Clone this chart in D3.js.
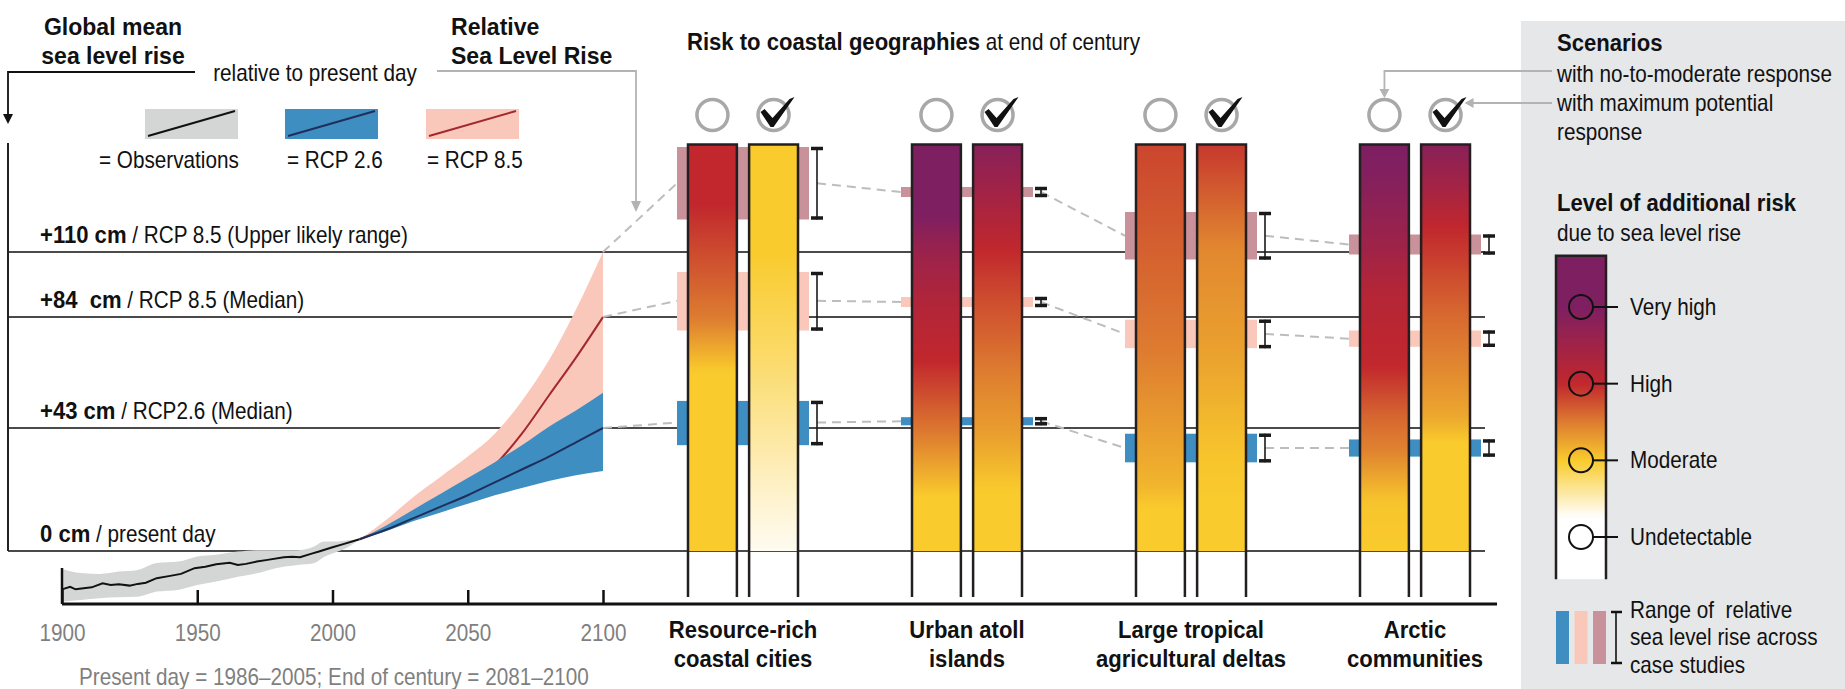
<!DOCTYPE html>
<html>
<head>
<meta charset="utf-8">
<script src="https://cdn.jsdelivr.net/npm/d3@7"></script>
<style>
  body { margin: 0; background: #fff; }
  svg text { font-family: 'Liberation Sans', Arial, sans-serif; white-space: pre; }
</style>
</head>
<body>
<svg id="chart" width="1845" height="689"></svg>
<script>
// ---------- data ----------

// observed global mean sea level (cm, relative to present day)
const obsYears = [1900, 1903, 1905, 1908, 1911, 1915, 1918, 1921, 1925, 1928, 1931, 1935, 1940, 1944, 1949,
  1953, 1957, 1962, 1965, 1968, 1972, 1976, 1982, 1985, 1988, 1992, 1995, 2000, 2004, 2010];
const obsLevel = [-13.4, -12.5, -13.4, -13.0, -12.7, -11.3, -11.9, -11.6, -12.1, -11.5, -11.1, -9.5, -8.7, -8.0, -6.0,
  -5.5, -4.6, -4.1, -4.9, -4.5, -3.7, -3.1, -2.2, -2.0, -2.2, -1.0, -0.2, 1.3, 2.4, 4.1];
const obsBandYears = [1900, 1907, 1914, 1921, 1928, 1935, 1943, 1950, 1957, 1965, 1972, 1979, 1987, 1993, 1997, 2001, 2006, 2010];
const obsBandHigh = [-6.3, -7.7, -8.0, -7.2, -6.6, -4.2, -3.7, -1.9, -1.3, -0.2, 0.3, 0.3, 0.3, 1.5, 3.3, 3.3, 3.8, 4.1];
const obsBandLow = [-17.7, -17.1, -16.5, -16.2, -16.0, -14.2, -13.6, -11.9, -10.7, -9.0, -7.8, -6.0, -4.9, -4.3, -2.0, -0.5, 1.5, 4.1];

// projections
const projYears = [2010, 2020, 2030, 2040, 2050, 2060, 2070, 2080, 2090, 2100];
const rcp26Median = [4.1, 7.5, 11.5, 15.5, 19.5, 24, 28.5, 33, 38, 43];
const rcp26Low = [4.1, 7, 10.5, 13.5, 16.5, 19.5, 22, 24.5, 26.5, 28];
const rcp26High = [4.1, 9, 14.5, 20, 25.5, 31, 37, 43.5, 49.5, 56];
const rcp85Median = [4.1, 8, 12.5, 16.5, 22, 30, 41, 55, 69, 84];
const rcp85Low = [4.1, 8, 12, 16, 20, 25, 31, 39, 47, 55];
const rcp85High = [4.1, 11, 19, 26, 33, 41, 53, 68, 87, 110];

// reference levels
const refLevels = [110, 84, 43, 0];
const refBold = ["+110 cm", "+84  cm", "+43 cm", "0 cm"];
const refText = [" / RCP 8.5 (Upper likely range)", " / RCP 8.5 (Median)", " / RCP2.6 (Median)", " / present day"];
const yearTicks = [1900, 1950, 2000, 2050, 2100];

// coastal geographies
const geographies = ["Resource-rich", "Urban atoll", "Large tropical", "Arctic"];
const geoLine2 = ["coastal cities", "islands", "agricultural deltas", "communities"];
const barSpan = [0, 153]; // cm covered by each risk bar

// range of relative sea level rise across case studies (cm)
const range85Upper = [[123, 152], [132, 136], [107, 126], [109, 117]];
const range85Median = [[79, 102], [88, 92], [72.5, 83], [73, 79]];
const range26Median = [[37, 53], [44, 47], [31, 41], [33, 39]];

// risk level (0 undetectable, 1 moderate, 2 high, 3 very high) against sea level (cm)
const riskNoResponse = [
  [[153, 2], [129, 2], [84, 1.5], [64, 1], [0, 1]],
  [[153, 3], [125, 3], [111, 2.6], [91, 2.25], [68, 2], [41, 1.5], [19, 1], [0, 1]],
  [[153, 1.82], [111, 1.66], [72, 1.5], [24, 1.15], [15, 1], [0, 1]],
  [[153, 3], [143, 2.95], [111, 2.5], [95, 2.2], [66, 2], [47, 1.62], [35, 1.45], [18, 1.05], [0, 1]]
];
const riskMaxResponse = [
  [[153, 1], [111, 1], [72, 0.8], [35, 0.55], [18, 0.42], [0, 0.3]],
  [[153, 2.85], [111, 2.0], [98, 1.85], [78, 1.65], [60, 1.45], [41, 1.28], [21, 1], [0, 1]],
  [[153, 1.9], [131, 1.65], [111, 1.42], [72, 1.27], [35, 1.05], [18, 1], [0, 1]],
  [[153, 2.85], [131, 2.3], [120, 2.0], [111, 1.9], [84, 1.6], [66, 1.43], [47, 1.22], [38, 1], [0, 1]]
];
const riskLevels = [3, 2, 1, 0];
const riskNames = ["Very high", "High", "Moderate", "Undetectable"];
const riskLegendSpan = [-0.55, 3.67];

// ---------- scales ----------

const svg = d3.select("#chart");

const x = d3.scaleLinear().domain([1900, 2100]).range([62, 603]);
const y = d3.scaleLinear().domain([0, 43, 84, 110]).range([551, 428, 317, 252]);

const geo = d3.scaleBand().domain(geographies).range([631, 1527]);
const scen = d3.scaleBand().domain(["none", "max"]).range([-55, 55]).paddingInner(0.2);
const riskColor = d3.scaleLinear()
  .domain([0.25, 1, 1.5, 2, 3])
  .range(["#ffffff", "#f9cb2c", "#dd7b30", "#c1272d", "#7e1f62"])
  .clamp(true);
const riskY = d3.scaleLinear().domain([0, 3]).range([537, 307]);

const colObsBand = "#d3d6d5", colBlue = "#3f8ec2", colPink = "#f9c8ba", colMauve = "#c9929b";
const colRed = "#a3282e", colNavy = "#1f2f5a", colGrey = "#b3b3b3", colLine = "#4a4a4a";
const defs = svg.append("defs");

// the original uses a narrow face; squeeze Liberation Sans horizontally
const SX_REG = 0.9, SX_BOLD = 0.96;

function label(parent, x0, y0, str, opts = {}) {
  const bold = !!opts.bold;
  const sx = bold ? SX_BOLD : SX_REG;
  return parent.append("text")
    .attr("transform", `translate(${x0},${y0}) scale(${sx},1)`)
    .attr("font-size", opts.size || 23)
    .attr("font-weight", bold ? "bold" : "normal")
    .attr("text-anchor", opts.anchor || "start")
    .attr("fill", opts.fill || "#111")
    .text(str);
}

function richLabel(parent, x0, y0, parts, size) {
  let cx = x0;
  parts.forEach(p => {
    const t = label(parent, cx, y0, p.text, { size, bold: p.bold });
    cx += t.node().getComputedTextLength() * (p.bold ? SX_BOLD : SX_REG);
  });
}

function geoCenter(g) { return geo(g) + geo.bandwidth() / 2; }

function addGradient(id, y1, y2, stopFn) {
  const grad = defs.append("linearGradient")
    .attr("id", id)
    .attr("gradientUnits", "userSpaceOnUse")
    .attr("x1", 0).attr("x2", 0).attr("y1", y1).attr("y2", y2);
  d3.range(0, 61).forEach(i => {
    const t = i / 60;
    grad.append("stop").attr("offset", t).attr("stop-color", stopFn(t));
  });
}

// ---------- right legend panel background ----------

svg.append("rect")
  .attr("x", 1521).attr("y", 21).attr("width", 324).attr("height", 668)
  .attr("fill", "#e6e7e8");

// ---------- reference lines ----------

svg.selectAll(".ref")
  .data(refLevels)
  .join("line")
  .attr("x1", 8).attr("x2", 1485)
  .attr("y1", d => y(d)).attr("y2", d => y(d))
  .attr("stroke", colLine).attr("stroke-width", 2);

svg.append("line")
  .attr("x1", 8).attr("x2", 8).attr("y1", 143).attr("y2", y(0))
  .attr("stroke", "#222").attr("stroke-width", 2);

// ---------- observations ----------

const obsBand = obsBandYears.map((yr, i) => ({ yr, lo: obsBandLow[i], hi: obsBandHigh[i] }));
svg.append("path")
  .datum(obsBand)
  .attr("fill", colObsBand)
  .attr("d", d3.area().x(d => x(d.yr)).y0(d => y(d.lo)).y1(d => y(d.hi)).curve(d3.curveMonotoneX));

svg.append("path")
  .datum(obsYears.map((yr, i) => ({ yr, v: obsLevel[i] })))
  .attr("fill", "none").attr("stroke", "#111").attr("stroke-width", 2)
  .attr("d", d3.line().x(d => x(d.yr)).y(d => y(d.v)));

// ---------- projections ----------

const proj = projYears.map((yr, i) => ({
  yr,
  m26: rcp26Median[i], lo26: rcp26Low[i], hi26: rcp26High[i],
  m85: rcp85Median[i], lo85: rcp85Low[i], hi85: rcp85High[i]
}));
const curve = d3.curveMonotoneX;

svg.append("path").datum(proj).attr("fill", colPink)
  .attr("d", d3.area().x(d => x(d.yr)).y0(d => y(d.lo85)).y1(d => y(d.hi85)).curve(curve));
svg.append("path").datum(proj).attr("fill", "none").attr("stroke", colRed).attr("stroke-width", 2)
  .attr("d", d3.line().x(d => x(d.yr)).y(d => y(d.m85)).curve(curve));
svg.append("path").datum(proj).attr("fill", colBlue)
  .attr("d", d3.area().x(d => x(d.yr)).y0(d => y(d.lo26)).y1(d => y(d.hi26)).curve(curve));
svg.append("path").datum(proj).attr("fill", "none").attr("stroke", colNavy).attr("stroke-width", 2)
  .attr("d", d3.line().x(d => x(d.yr)).y(d => y(d.m26)).curve(curve));

// ---------- x axis ----------

const axis = svg.append("g")
  .attr("transform", `translate(0,604)`)
  .call(d3.axisBottom(x).tickValues(yearTicks).tickFormat(d3.format("d")).tickSize(-14).tickPadding(21));
axis.select(".domain").remove();
axis.selectAll(".tick line").attr("stroke", "#111").attr("stroke-width", 2.5);
axis.selectAll(".tick text")
  .attr("fill", "#7f7f7f").attr("font-size", 23)
  .attr("transform", `scale(${SX_REG},1)`)
  .style("font-family", "'Liberation Sans', Arial, sans-serif");
svg.append("line")
  .attr("x1", x(1900)).attr("x2", 1497).attr("y1", 604).attr("y2", 604)
  .attr("stroke", "#111").attr("stroke-width", 3);
svg.append("line")
  .attr("x1", x(1900)).attr("x2", x(1900)).attr("y1", 568).attr("y2", 604)
  .attr("stroke", "#111").attr("stroke-width", 2.5);

label(svg, 79, 685, "Present day = 1986–2005; End of century = 2081–2100", { fill: "#7f7f7f" });

// ---------- dashed connectors ----------

const rangeSets = [
  { ranges: range85Upper, color: colMauve, start: 110 },
  { ranges: range85Median, color: colPink, start: 84 },
  { ranges: range26Median, color: colBlue, start: 43 }
];
const boxHalf = 66, errOffset = 74;

rangeSets.forEach(set => {
  const mids = set.ranges.map(r => (r[0] + r[1]) / 2);
  const pts = [[x(2100), y(set.start), geoCenter(geographies[0]) - boxHalf, y(mids[0])]];
  for (let i = 0; i < geographies.length - 1; i++) {
    pts.push([geoCenter(geographies[i]) + errOffset, y(mids[i]),
      geoCenter(geographies[i + 1]) - boxHalf, y(mids[i + 1])]);
  }
  svg.append("g").selectAll("line")
    .data(pts)
    .join("line")
    .attr("x1", d => d[0]).attr("y1", d => d[1]).attr("x2", d => d[2]).attr("y2", d => d[3])
    .attr("stroke", "#bdbdbd").attr("stroke-width", 2).attr("stroke-dasharray", "9,6");
});

// ---------- range boxes ----------

rangeSets.forEach(set => {
  svg.append("g").selectAll("rect")
    .data(set.ranges)
    .join("rect")
    .attr("x", (d, i) => geoCenter(geographies[i]) - boxHalf)
    .attr("width", boxHalf * 2)
    .attr("y", d => y(d[1]))
    .attr("height", d => y(d[0]) - y(d[1]))
    .attr("fill", set.color);
});

// ---------- risk bars ----------

function riskAt(stops, cm) {
  const s = stops.slice().sort((a, b) => a[0] - b[0]);
  const f = d3.scaleLinear().domain(s.map(d => d[0])).range(s.map(d => d[1])).clamp(true);
  return f(cm);
}

const barTop = y(barSpan[1]), barBottom = y(barSpan[0]), barFoot = 597;

geographies.forEach((g, gi) => {
  [["none", riskNoResponse[gi]], ["max", riskMaxResponse[gi]]].forEach(([s, stops]) => {
    const bx = geoCenter(g) + scen(s);
    const bw = scen.bandwidth();
    const id = `bar-${gi}-${s}`;
    addGradient(id, barTop, barBottom, t => riskColor(riskAt(stops, y.invert(barTop + t * (barBottom - barTop)))));
    svg.append("rect")
      .attr("x", bx).attr("y", barTop).attr("width", bw).attr("height", barBottom - barTop)
      .attr("fill", `url(#${id})`);
    svg.append("path")
      .attr("d", `M${bx},${barFoot}V${barTop}H${bx + bw}V${barFoot}`)
      .attr("fill", "none").attr("stroke", "#231f20").attr("stroke-width", 2.5);

    // scenario icon
    const cx = bx + bw / 2, cy = 115;
    svg.append("circle")
      .attr("cx", cx).attr("cy", cy).attr("r", 15.5)
      .attr("fill", "none").attr("stroke", "#a8a8a8").attr("stroke-width", 3.5);
    if (s === "max") {
      svg.append("path")
        .attr("transform", `translate(${cx},${cy})`)
        .attr("d", "M-13,-3 L-9,-6 L-1,3 L16,-16 L21,-18 L0,12 L-3,12 Z")
        .attr("fill", "#111");
    }
  });
});

// ---------- error bars ----------

rangeSets.forEach(set => {
  set.ranges.forEach((r, i) => {
    const ex = geoCenter(geographies[i]) + errOffset;
    const g = svg.append("g").attr("stroke", "#1a1a1a");
    g.append("line").attr("x1", ex).attr("x2", ex).attr("y1", y(r[1])).attr("y2", y(r[0])).attr("stroke-width", 1.6);
    g.append("line").attr("x1", ex - 6).attr("x2", ex + 6).attr("y1", y(r[1]) + 1.5).attr("y2", y(r[1]) + 1.5).attr("stroke-width", 3.5);
    g.append("line").attr("x1", ex - 6).attr("x2", ex + 6).attr("y1", y(r[0]) - 1.5).attr("y2", y(r[0]) - 1.5).attr("stroke-width", 3.5);
  });
});

// ---------- geography labels ----------

geographies.forEach((g, i) => {
  label(svg, geoCenter(g), 638, g, { bold: true, anchor: "middle" });
  label(svg, geoCenter(g), 667, geoLine2[i], { bold: true, anchor: "middle" });
});

// ---------- left titles and legend ----------

label(svg, 113, 35, "Global mean", { size: 24, bold: true, anchor: "middle" });
label(svg, 113, 64, "sea level rise", { size: 24, bold: true, anchor: "middle" });
label(svg, 451, 35, "Relative", { size: 24, bold: true });
label(svg, 451, 64, "Sea Level Rise", { size: 24, bold: true });
label(svg, 315, 81, "relative to present day", { size: 23, anchor: "middle" });

svg.append("path").attr("d", "M195,72H8V118").attr("fill", "none").attr("stroke", "#111").attr("stroke-width", 1.8);
svg.append("path").attr("d", "M3,114L13,114L8,124Z").attr("fill", "#111");
svg.append("path").attr("d", "M437,71H636V205").attr("fill", "none").attr("stroke", colGrey).attr("stroke-width", 1.8);
svg.append("path").attr("d", "M631,201L641,201L636,212Z").attr("fill", colGrey);

const legendItems = [
  { fill: colObsBand, line: "#111", label: "= Observations", x: 145, lx: 99 },
  { fill: colBlue, line: colNavy, label: "= RCP 2.6", x: 285, lx: 287 },
  { fill: colPink, line: colRed, label: "= RCP 8.5", x: 426, lx: 427 }
];
legendItems.forEach(d => {
  svg.append("rect").attr("x", d.x).attr("y", 109).attr("width", 93).attr("height", 30).attr("fill", d.fill);
  svg.append("line").attr("x1", d.x + 3).attr("y1", 136).attr("x2", d.x + 90).attr("y2", 111)
    .attr("stroke", d.line).attr("stroke-width", 2);
  label(svg, d.lx, 168, d.label, { size: 23 });
});

// reference level labels
refLevels.forEach((lv, i) => {
  richLabel(svg, 40, y(lv) - 9, [{ text: refBold[i], bold: true }, { text: refText[i] }], 23);
});

// risk title
richLabel(svg, 687, 50, [{ text: "Risk to coastal geographies", bold: true }, { text: " at end of century" }], 23);

// ---------- right legend ----------

label(svg, 1557, 51, "Scenarios", { bold: true });
label(svg, 1557, 82, "with no-to-moderate response");
label(svg, 1557, 111, "with maximum potential");
label(svg, 1557, 140, "response");

const lastC = geoCenter(geographies[3]);
const noneX = lastC + scen("none") + scen.bandwidth() / 2;
const maxX = lastC + scen("max") + scen.bandwidth() / 2;
svg.append("path").attr("d", `M1552,71H${noneX}V92`)
  .attr("fill", "none").attr("stroke", colGrey).attr("stroke-width", 1.8);
svg.append("path").attr("d", `M${noneX - 5},89l10,0l-5,9Z`).attr("fill", colGrey);
svg.append("path").attr("d", `M1552,103H${maxX + 24}`)
  .attr("fill", "none").attr("stroke", colGrey).attr("stroke-width", 1.8);
svg.append("path").attr("d", `M${maxX + 19},103l9,-5l0,10Z`).attr("fill", colGrey);

label(svg, 1557, 211, "Level of additional risk", { bold: true });
label(svg, 1557, 241, "due to sea level rise");

const legTop = riskY(riskLegendSpan[1]), legBottom = riskY(riskLegendSpan[0]);
addGradient("legend-grad", legTop, legBottom, t => riskColor(riskY.invert(legTop + t * (legBottom - legTop))));
svg.append("rect").attr("x", 1556).attr("y", legTop).attr("width", 50).attr("height", legBottom - legTop)
  .attr("fill", "url(#legend-grad)");
svg.append("path").attr("d", `M1556,${legBottom}V${legTop}H1606V${legBottom}`)
  .attr("fill", "none").attr("stroke", "#231f20").attr("stroke-width", 2.5);

riskLevels.forEach((lv, i) => {
  svg.append("circle").attr("cx", 1581).attr("cy", riskY(lv)).attr("r", 12)
    .attr("fill", "none").attr("stroke", "#111").attr("stroke-width", 2);
  svg.append("line").attr("x1", 1593).attr("x2", 1618).attr("y1", riskY(lv)).attr("y2", riskY(lv))
    .attr("stroke", "#111").attr("stroke-width", 2);
  label(svg, 1630, riskY(lv) + 8, riskNames[i]);
});

[colBlue, colPink, colMauve].forEach((c, i) => {
  svg.append("rect").attr("x", 1556 + i * 18.5).attr("y", 611).attr("width", 13).attr("height", 53).attr("fill", c);
});
svg.append("line").attr("x1", 1616).attr("x2", 1616).attr("y1", 612).attr("y2", 663).attr("stroke", "#111").attr("stroke-width", 1.6);
svg.append("line").attr("x1", 1611).attr("x2", 1622).attr("y1", 612).attr("y2", 612).attr("stroke", "#111").attr("stroke-width", 2.5);
svg.append("line").attr("x1", 1611).attr("x2", 1622).attr("y1", 663).attr("y2", 663).attr("stroke", "#111").attr("stroke-width", 2.5);
label(svg, 1630, 618, "Range of  relative");
label(svg, 1630, 645, "sea level rise across");
label(svg, 1630, 673, "case studies");
</script>
</body>
</html>
